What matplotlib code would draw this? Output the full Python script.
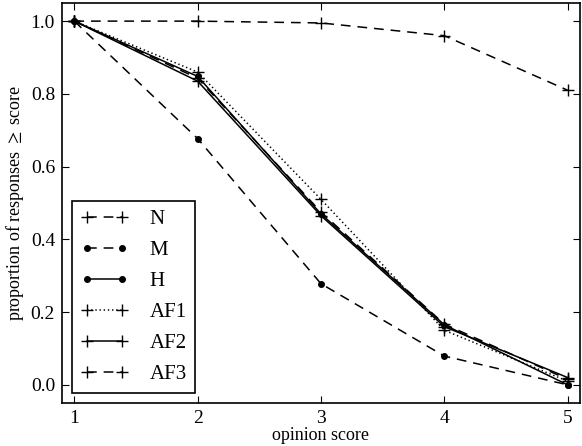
import matplotlib
matplotlib.use("Agg")
import matplotlib.pyplot as plt

plt.rcParams['font.family'] = ['Liberation Serif', 'DejaVu Serif']
plt.rcParams['mathtext.fontset'] = 'stix'
plt.rcParams['lines.scale_dashes'] = False

scores = [1, 2, 3, 4, 5]
N = [1.0, 1.0, 0.995, 0.96, 0.81]
M = [1.0, 0.677, 0.278, 0.079, 0.0]
H = [1.0, 0.848, 0.47, 0.165, 0.0]
AF1 = [1.0, 0.86, 0.51, 0.15, 0.01]
AF2 = [1.0, 0.835, 0.465, 0.16, 0.02]
AF3 = [1.0, 0.843, 0.475, 0.167, 0.015]

fig = plt.figure(figsize=(5.82, 4.46), dpi=100)
ax = fig.add_axes([0.1065, 0.0964, 0.89, 0.897])

lw = 1.1
dash = (0, (7, 5))
dot = (0, (1, 2))
ax.plot(scores, N, color='k', ls=dash, marker='+', ms=8, mew=1, lw=lw, label='N')
ax.plot(scores, M, color='k', ls=dash, marker='o', ms=4, lw=lw, label='M')
ax.plot(scores, H, color='k', ls='-', marker='o', ms=4, lw=lw, label='H')
ax.plot(scores, AF1, color='k', ls=dot, marker='+', ms=8, mew=1, lw=lw, label='AF1')
ax.plot(scores, AF2, color='k', ls='-', marker='+', ms=8, mew=1, lw=lw, label='AF2')
ax.plot(scores, AF3, color='k', ls=dash, marker='+', ms=8, mew=1, lw=lw, label='AF3')

ax.set_xlim(0.9, 5.1)
ax.set_ylim(-0.05, 1.05)
ax.set_xticks(scores)
ax.set_yticks([0.0, 0.2, 0.4, 0.6, 0.8, 1.0])
ax.set_yticklabels(['0.0', '0.2', '0.4', '0.6', '0.8', '1.0'])
ax.tick_params(direction='in', top=True, right=True, labelsize=14, length=5, pad=5)
for s in ax.spines.values():
    s.set_linewidth(1.2)

ax.set_xlabel('opinion score', fontsize=13, labelpad=0)
ax.set_ylabel(r'proportion of responses $\geq$ score', fontsize=13, labelpad=3)

leg = ax.legend(loc='lower left', fontsize=15, fancybox=False, framealpha=1,
                edgecolor='k', numpoints=2, handlelength=2.3, handletextpad=1.0,
                labelspacing=0.55, borderaxespad=0.5, borderpad=0.4)
leg.get_frame().set_linewidth(1.2)

fig.savefig('out.png', dpi=100)
